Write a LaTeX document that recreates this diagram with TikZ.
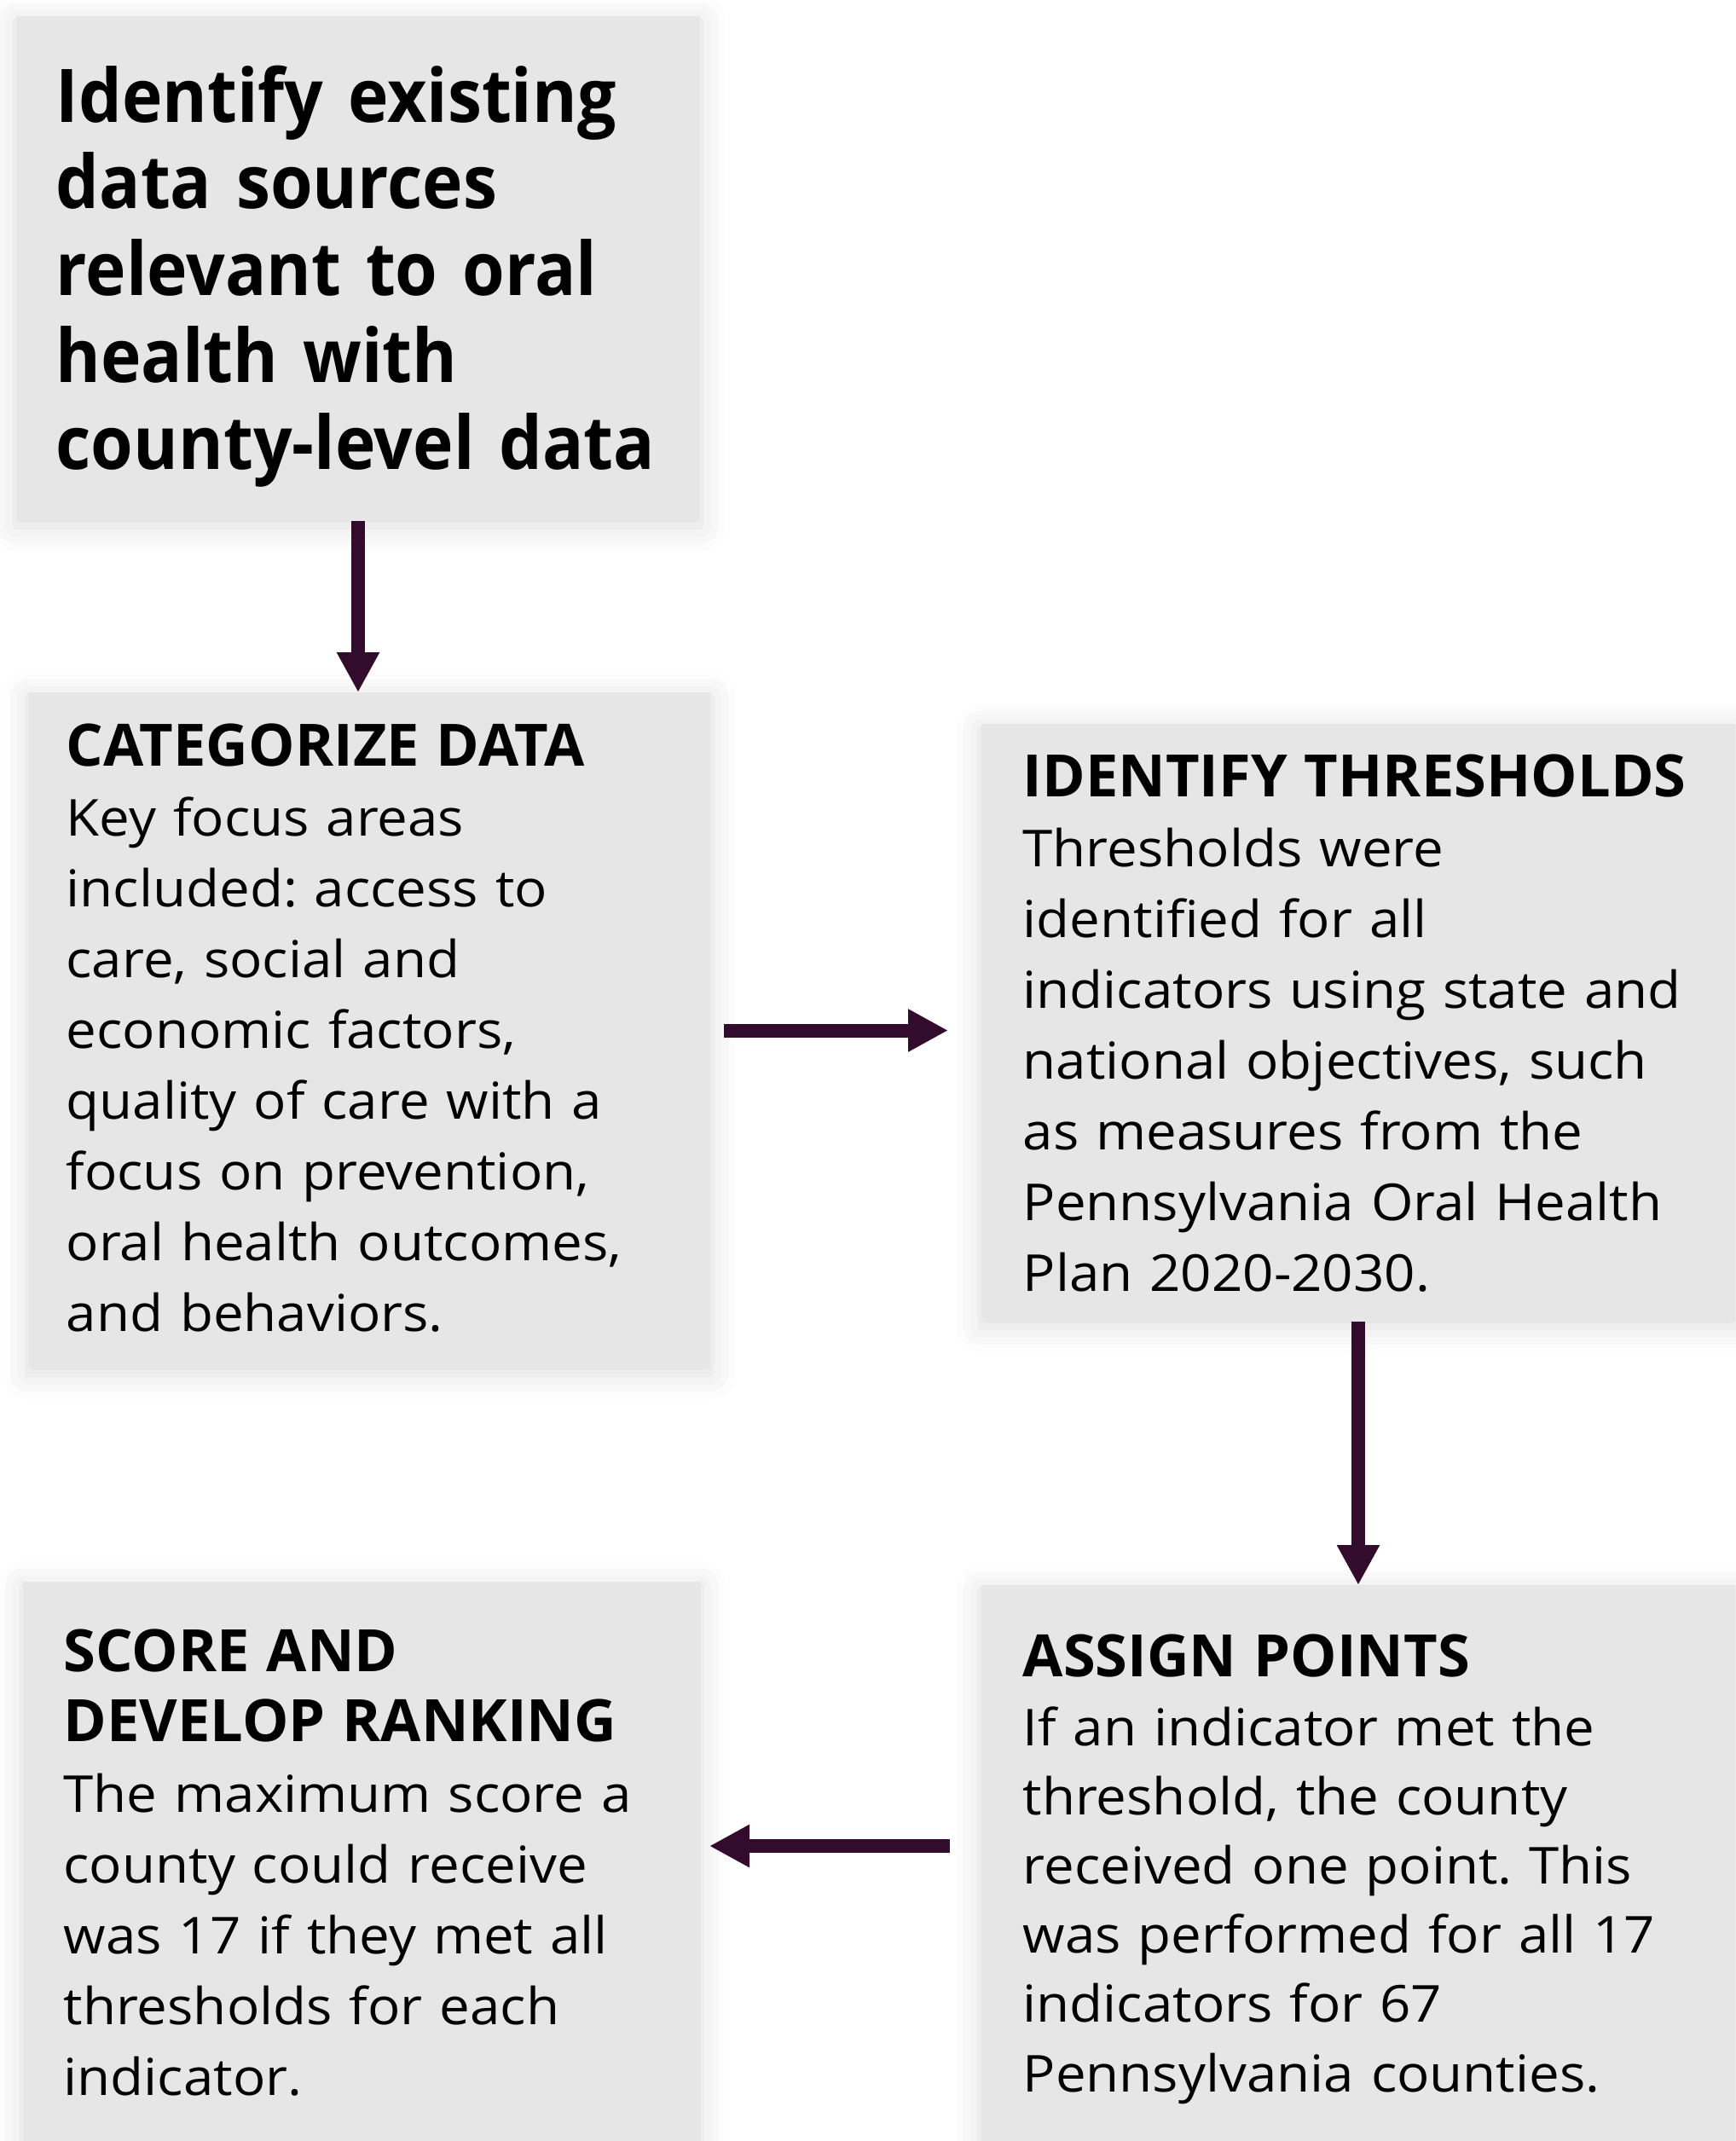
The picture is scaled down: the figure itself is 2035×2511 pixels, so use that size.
\documentclass[tikz,border=0pt]{standalone}
\usepackage{fontspec}
\setmainfont{Open Sans}
\newfontfamily\bodyfont[FakeStretch=1.065]{Open Sans}
\newfontfamily\leadfont[FakeStretch=0.925]{Open Sans}
\usepackage{tikz}
\usetikzlibrary{arrows.meta}
\usetikzlibrary{shadows.blur}

\definecolor{boxgray}{HTML}{E6E6E6}
\definecolor{plum}{HTML}{330B2C}

\newcommand{\steptitle}[1]{{\normalfont\bfseries\fontsize{19.5}{23.6}\selectfont #1}}

\begin{document}
\frenchspacing
\begin{tikzpicture}[
  x=0.1mm,y=-0.1mm,
  box/.style={rectangle,fill=boxgray,draw=none,inner sep=0pt,outer sep=0pt,
    blur shadow={shadow xshift=0pt,shadow yshift=-0.6mm,shadow blur radius=3mm,shadow opacity=14}},
  txt/.style={anchor=base west,inner sep=0pt,align=left,text width=9cm,font=\bodyfont\fontsize{17}{23.6}\selectfont},
  flow/.style={-{Triangle[length=4.7mm,width=4.7mm]},line width=1.6mm,draw=plum}]

  \useasboundingbox (0,0) rectangle (2035,2511);

  % boxes
  \node[box,minimum width=8.02cm,minimum height=5.92cm] (ident) at (420,315) {};
  \node[box,minimum width=8.00cm,minimum height=7.93cm] (cat) at (433,1208.5) {};
  \node[box,minimum width=8.84cm,minimum height=7.01cm] (thr) at (1593,1199.5) {};
  \node[box,minimum width=8.84cm,minimum height=6.52cm] (pts) at (1593,2185) {};
  \node[box,minimum width=7.95cm,minimum height=6.56cm] (score) at (424.5,2183) {};

  % texts
  \node[txt,font=\leadfont\bfseries\fontsize{24.7}{29}\selectfont] (identtxt) at (65,143)
    {Identify existing\\data sources\\relevant to oral\\health with\\county-level data};
  \node[txt] (cattxt) at (77,898)
    {\steptitle{CATEGORIZE DATA}\\Key focus areas\\included: access to\\care, social and\\economic factors,\\quality of care with a\\focus on prevention,\\oral health outcomes,\\and behaviors.};
  \node[txt] (thrtxt) at (1199,934)
    {\steptitle{IDENTIFY THRESHOLDS}\\Thresholds were\\identified for all\\indicators using state and\\national objectives, such\\as measures from the\\Pennsylvania Oral Health\\Plan 2020-2030.};
  \node[txt,font=\bodyfont\fontsize{17}{23.1}\selectfont] (ptstxt) at (1199,1966)
    {\steptitle{ASSIGN POINTS}\\If an indicator met the\\threshold, the county\\received one point. This\\was performed for all 17\\indicators for 67\\Pennsylvania counties.};
  \node[txt] (scoretxt) at (74,1960)
    {\steptitle{SCORE AND}\\\steptitle{DEVELOP RANKING}\\The maximum score a\\county could receive\\was 17 if they met all\\thresholds for each\\indicator.};

  % connectors
  \draw[flow] (ident.south) -- (ident.south |- cat.north);
  \draw[flow] ([xshift=1.6mm]cat.east) -- ([xshift=-3.9mm]cat.east -| thr.west);
  \draw[flow] (thr.south) -- (thr.south |- pts.north);
  \draw[flow] ([xshift=-3.7mm,yshift=2mm]pts.west) -- ([xshift=1mm,yshift=2mm]pts.west -| score.east);

\end{tikzpicture}
\end{document}
